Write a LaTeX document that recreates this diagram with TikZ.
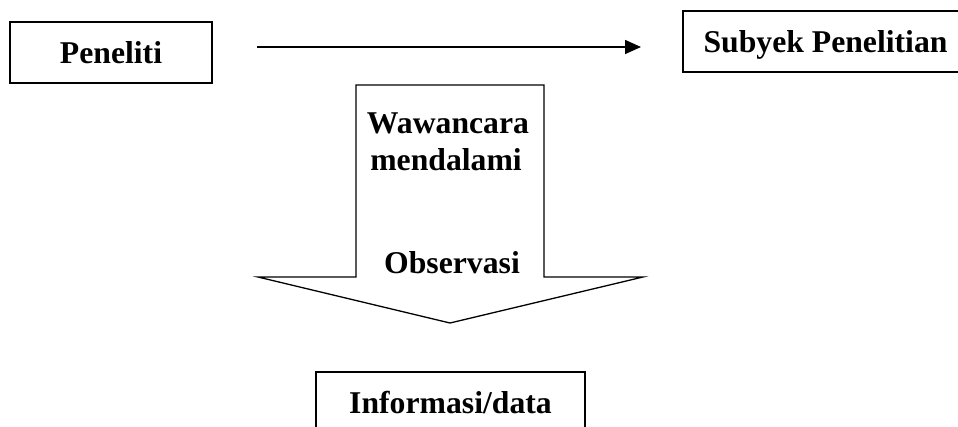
\documentclass[tikz,border=0pt]{standalone}
\usepackage{fontspec}
\setmainfont{Liberation Serif}
\usetikzlibrary{arrows.meta}
\begin{document}
\begin{tikzpicture}[x=1pt,y=-1pt,
  labelfont/.style={font=\fontsize{31.7}{37}\selectfont\bfseries},
  box/.style={draw, line width=2pt, inner sep=0pt, labelfont,
    text height=21pt, text depth=0pt, minimum height=61pt},
  lbl/.style={inner sep=0pt, anchor=base, labelfont},
  flow/.style={-{Triangle[length=16pt,width=14pt]}, line width=1.5pt},
]
\useasboundingbox (0,0) rectangle (958,426);

% boxes
\node[box, minimum width=202pt] (pen) at (111,52.5) {Peneliti};
\node[box, minimum width=285pt] (sub) at (825.5,41.5) {Subyek Penelitian};
\node[box, minimum width=269pt] (info) at (450.5,402.5) {Informasi/data};

% arrow between researcher and subject
\coordinate (a0) at (257,47);
\coordinate (a1) at (641,47);
\draw[flow] (a0) -- (a1);

% broad block arrow pointing down
\draw[line width=1.3pt, line join=miter]
  (356,85) -- (544,85) -- (544,277) -- (643,277) -- (450,323)
  -- (258,277) -- (356,277) -- cycle;
\node[lbl] (w1) at (448,133) {Wawancara};
\node[lbl] (w2) at (446,170) {mendalami};
\node[lbl] (obs) at (452,273) {Observasi};
\end{tikzpicture}
\end{document}
